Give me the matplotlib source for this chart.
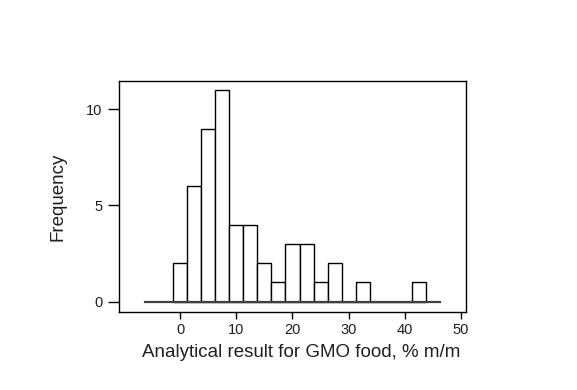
import numpy as np
import matplotlib
matplotlib.use("Agg")
import matplotlib.pyplot as plt

plt.rcParams['font.family'] = ['Liberation Sans', 'DejaVu Sans']

# histogram of analytical results (bin midpoints, width 2.5)
bin_centers = [0, 2.5, 5, 7.5, 10, 12.5, 15, 17.5, 20, 22.5, 25, 27.5, 30, 32.5, 35, 37.5, 40, 42.5]
counts = [2, 6, 9, 11, 4, 4, 2, 1, 3, 3, 1, 2, 0, 1, 0, 0, 0, 1]
bin_width = 2.5
baseline_range = [-6.25, 46.25]
x_ticks = [0, 10, 20, 30, 40, 50]
y_ticks = [0, 5, 10]

fig = plt.figure(figsize=(5.77, 3.90), dpi=100)
ax = fig.add_axes([0.2062, 0.2008, 0.6014, 0.5915])

ax.bar(bin_centers, counts, width=bin_width, color='white',
       edgecolor='black', linewidth=1.0, zorder=2)
ax.plot(baseline_range, [0, 0], color='#404040', linewidth=1.6, zorder=3)

ax.set_xlim(-10.9, 50.9)
ax.set_ylim(-0.52, 11.47)
ax.set_xticks(x_ticks)
ax.set_yticks(y_ticks)

for s in ax.spines.values():
    s.set_linewidth(1.0)
    s.set_color('black')

ax.tick_params(axis='y', direction='out', length=8, width=1.0, pad=4,
               labelsize=10.5, labelcolor='#202020')
ax.tick_params(axis='x', direction='out', length=5, width=1.0, pad=3,
               labelsize=10.5, labelcolor='#202020')

ax.set_xlabel('Analytical result for GMO food, % m/m', fontsize=13.5,
              color='#202020')
ax.xaxis.set_label_coords(0.525, -0.142, transform=ax.transAxes)
ax.set_ylabel('Frequency', fontsize=13.5, color='#202020', labelpad=14)

plt.savefig('out.png', dpi=100)
